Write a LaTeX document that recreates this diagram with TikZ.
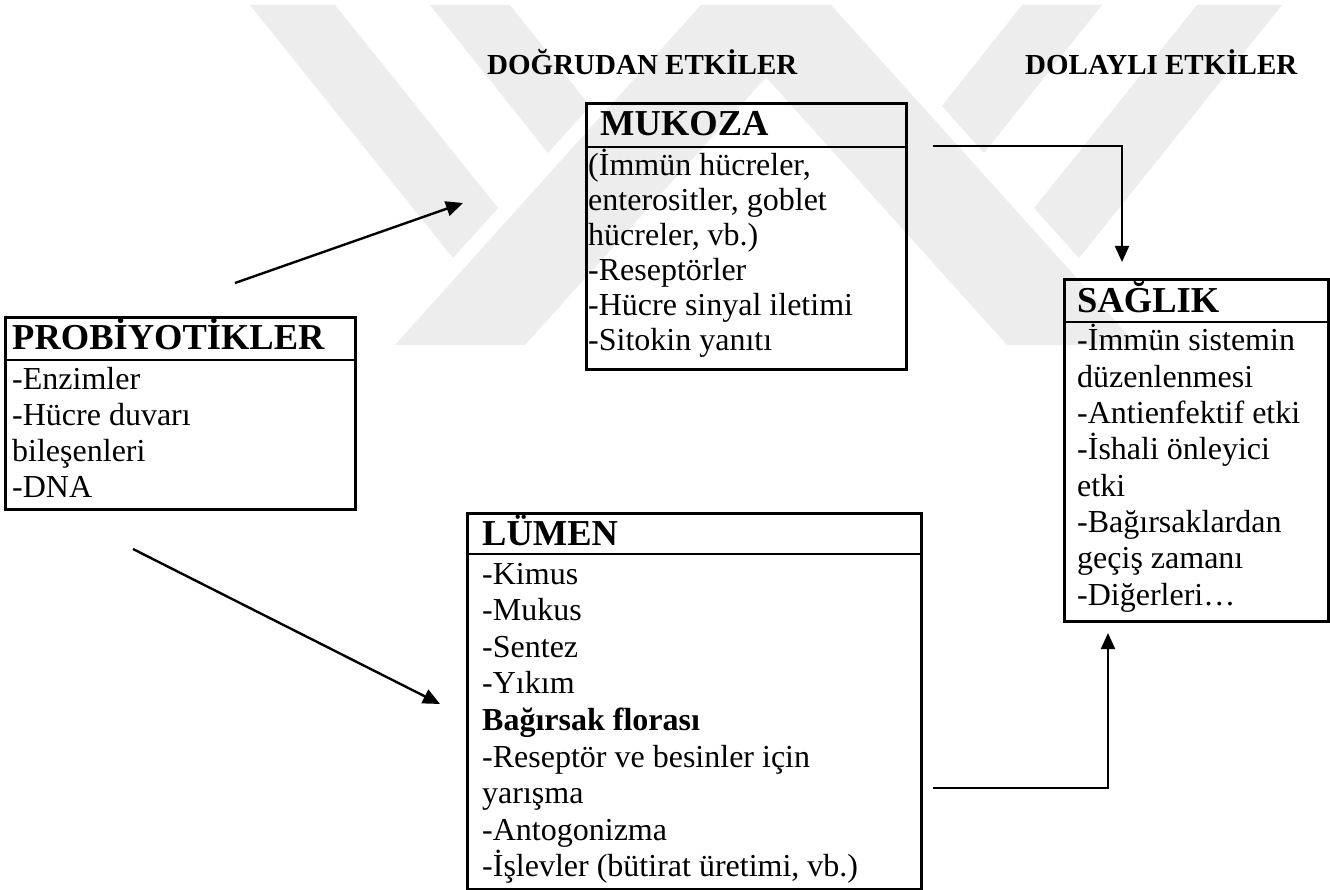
\documentclass[tikz,border=0pt]{standalone}
\usepackage{fontspec}
\setmainfont{Liberation Serif}
\usetikzlibrary{arrows.meta}
\begin{document}
\begin{tikzpicture}[x=1pt,y=-1pt,
  box/.style={draw, line width=2.6pt, inner sep=0, anchor=north west},
  divline/.style={line width=2.6pt},
  hdr/.style={font=\fontsize{36.5}{40}\selectfont\bfseries, anchor=base west, inner sep=0},
  body/.style={font=\fontsize{32}{36.8}\selectfont, anchor=base west, inner sep=0},
  bodyb/.style={font=\fontsize{32}{36.8}\selectfont\bfseries, anchor=base west, inner sep=0},
  head/.style={font=\fontsize{29}{33}\selectfont\bfseries, anchor=base west, inner sep=0},
  conn/.style={line width=2.4pt, -{Triangle[length=17pt,width=15pt]}},
  elbow/.style={line width=2pt, -{Triangle[length=16pt,width=14pt]}},
  wm/.style={fill=black!7, draw=none}]
\useasboundingbox[fill=white] (0,0) rectangle (1330,890);
% watermark
\fill[wm] (395,345) -- (525,345) -- (831,5) -- (701,5) -- cycle;
\fill[wm] (1007,345) -- (1137,345) -- (831,5) -- (701,5) -- cycle;
\fill[wm] (250,5) -- (335,5) -- (498,208) -- (453,258) -- cycle;
\fill[wm] (430,5) -- (510,5) -- (590,106) -- (548,153) -- cycle;
\fill[wm] (1282,5) -- (1197,5) -- (1034,208) -- (1079,258) -- cycle;
\fill[wm] (1102,5) -- (1022,5) -- (942,106) -- (984,153) -- cycle;
% headings
\node[head] (hd1) at (487,75) {DOĞRUDAN ETKİLER};
\node[head] (hd2) at (1025,75) {DOLAYLI ETKİLER};
% PROBIYOTIKLER
\node[box, minimum width=350pt, minimum height=192pt] (prob) at (4,316) {};
\coordinate (probdiv) at (0,360);
\draw[divline] (prob.west |- probdiv) -- (prob.east |- probdiv);
\node[hdr] (probh) at (12,350) {PROBİYOTİKLER};
\foreach \t [count=\i] in {-Enzimler,-Hücre duvarı,bileşenleri,-DNA}
  \node[body] (probl\i) at (12,{389+36.2*(\i-1)}) {\t};
% MUKOZA
\node[box, minimum width=320pt, minimum height=266pt] (muk) at (585,102) {};
\coordinate (mukdiv) at (0,147);
\draw[divline] (muk.west |- mukdiv) -- (muk.east |- mukdiv);
\node[hdr] (mukh) at (600,136) {MUKOZA};
\foreach \t [count=\i] in {{(İmmün hücreler,},{enterositler, goblet},{hücreler, vb.)},-Reseptörler,-Hücre sinyal iletimi,-Sitokin yanıtı}
  \node[body] (mukl\i) at (588,{176+35*(\i-1)}) {\t};
% LUMEN
\node[box, minimum width=454pt, minimum height=376pt] (lum) at (466,512) {};
\coordinate (lumdiv) at (0,554);
\draw[divline] (lum.west |- lumdiv) -- (lum.east |- lumdiv);
\node[hdr] (lumh) at (482,545) {LÜMEN};
\foreach \t [count=\i] in {-Kimus,-Mukus,-Sentez,-Yıkım}
  \node[body] (luml\i) at (482,{584+36.6*(\i-1)}) {\t};
\node[bodyb] (lumb) at (482,{584+36.6*4}) {Bağırsak florası};
\foreach \t [count=\i from 6] in {-Reseptör ve besinler için,yarışma,-Antogonizma,{-İşlevler (bütirat üretimi, vb.)}}
  \node[body] (luml\i) at (482,{584+36.6*(\i-1)}) {\t};
% SAGLIK
\node[box, minimum width=264pt, minimum height=342pt] (sag) at (1063,278) {};
\coordinate (sagdiv) at (0,322);
\draw[divline] (sag.west |- sagdiv) -- (sag.east |- sagdiv);
\node[hdr] (sagh) at (1077,313) {SAĞLIK};
\foreach \t [count=\i] in {-İmmün sistemin,düzenlenmesi,-Antienfektif etki,-İshali önleyici,etki,-Bağırsaklardan,geçiş zamanı,-Diğerleri…}
  \node[body] (sagl\i) at (1077,{351+36.3*(\i-1)}) {\t};
% connectors
\coordinate (a1s) at (235,283);
\coordinate (a1e) at (463,203);
\draw[conn] (a1s) -- (a1e);
\coordinate (a2s) at (133,549);
\coordinate (a2e) at (440,704);
\draw[conn] (a2s) -- (a2e);
\coordinate (e1s) at (933,146);
\coordinate (e1c) at (1122,146);
\coordinate (e1e) at (1122,262);
\draw[elbow] (e1s) -- (e1c) -- (e1e);
\coordinate (e2s) at (933,788);
\coordinate (e2c) at (1108,788);
\coordinate (e2e) at (1108,633);
\draw[elbow] (e2s) -- (e2c) -- (e2e);
\end{tikzpicture}
\end{document}
